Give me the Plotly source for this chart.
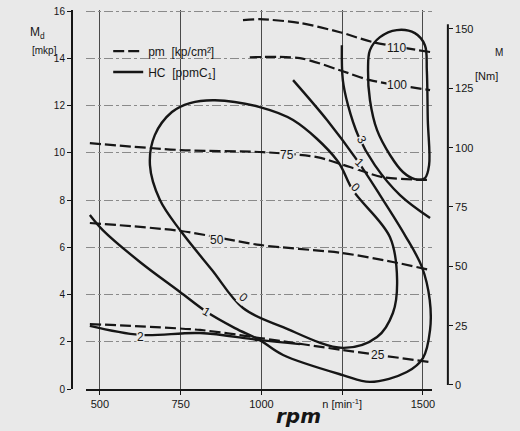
import plotly.graph_objects as go

# ---------------- data ----------------
# HC iso-lines (solid)
hc0_rpm = [856, 995, 1098, 1234, 1283, 1398, 1420, 1407, 1358, 1252, 1067, 943, 847, 748, 686, 655, 670, 723, 779, 856]
hc0_md = [12.23, 11.94, 11.39, 9.69, 8.42, 6.43, 4.61, 3.22, 2.20, 1.74, 2.62, 3.43, 5.04, 6.73, 8.00, 9.48, 10.75, 11.73, 12.11, 12.23]

hc1_rpm = [469, 509, 624, 748, 831, 918, 995, 1067, 1252, 1336, 1450, 1500, 1522, 1521, 1497, 1444, 1367, 1296, 1203, 1098]
hc1_md = [7.37, 6.73, 5.38, 4.11, 3.26, 2.58, 2.07, 1.44, 0.59, 0.30, 0.72, 1.31, 2.50, 3.77, 5.16, 6.52, 8.21, 9.69, 11.39, 13.08]

hc2_rpm = [469, 624, 810, 995, 1119]
hc2_md = [2.67, 2.29, 2.37, 2.07, 1.90]

hc3_rpm = [1249, 1252, 1268, 1299, 1351, 1429, 1522]
hc3_md = [14.56, 13.08, 12.02, 10.75, 9.48, 8.21, 7.24]

hcloop_rpm = [1419, 1367, 1336, 1330, 1336, 1358, 1398, 1438, 1475, 1506, 1519, 1515, 1512, 1506, 1475, 1419]
hcloop_md = [15.20, 14.90, 14.35, 13.50, 12.23, 10.96, 9.91, 9.19, 8.89, 8.93, 9.48, 11.39, 13.50, 14.56, 15.07, 15.20]

# pm iso-lines (dashed)
pm110_rpm = [943, 995, 1119, 1243, 1345, 1522]
pm110_md = [15.62, 15.66, 15.50, 15.11, 14.69, 14.27]
pm100_rpm = [964, 1119, 1243, 1336, 1522]
pm100_md = [14.05, 14.01, 13.50, 13.08, 12.66]
pm75_rpm = [469, 750, 1005, 1172, 1274, 1376, 1522]
pm75_md = [10.41, 10.12, 10.03, 9.82, 9.40, 8.97, 8.85]
pm50_rpm = [469, 751, 995, 1249, 1407, 1522]
pm50_md = [7.03, 6.69, 6.10, 5.76, 5.38, 5.04]
pm25_rpm = [469, 810, 995, 1252, 1522]
pm25_md = [2.75, 2.50, 2.16, 1.65, 1.14]

# curve labels
lab_text = ["0", "1", "2", "0", "1", "3", "110", "100", "75", "50", "25"]
lab_rpm = [943, 831, 627, 1290, 1305, 1311, 1419, 1419, 1079, 862, 1361]
lab_md = [3.89, 3.26, 2.20, 8.55, 9.57, 10.54, 14.43, 12.87, 9.93, 6.31, 1.44]
lab_angle = [40, 30, 0, 45, 45, 60, 0, 0, 0, 0, 0]

# axes ticks
x_ticks = [500, 750, 1000, 1250, 1500]
x_ticktext = ["500", "750", "1000", "n [min<sup>-1</sup>]", "1500"]
md_ticks = [0, 2, 4, 6, 8, 10, 12, 14, 16]
nm_ticks = [0, 25, 50, 75, 100, 125, 150]

# ---------------- styling ----------------
BG = "#e9e9e9"
INK = "#161616"
FONT = "Liberation Sans"

fig = go.Figure()

hc_sets = [(hc0_rpm, hc0_md), (hc1_rpm, hc1_md), (hc2_rpm, hc2_md),
           (hc3_rpm, hc3_md), (hcloop_rpm, hcloop_md)]
pm_sets = [(pm110_rpm, pm110_md), (pm100_rpm, pm100_md), (pm75_rpm, pm75_md),
           (pm50_rpm, pm50_md), (pm25_rpm, pm25_md)]

for i, (xs, ys) in enumerate(pm_sets):
    fig.add_trace(go.Scatter(
        x=xs, y=ys, mode="lines",
        line=dict(color=INK, width=2.2, dash="11px,4px", shape="spline", smoothing=0.8),
        name="pm  [kp/cm²]", legendgroup="pm", showlegend=(i == 0),
        hoverinfo="skip"))

for i, (xs, ys) in enumerate(hc_sets):
    fig.add_trace(go.Scatter(
        x=xs, y=ys, mode="lines",
        line=dict(color=INK, width=2.4, shape="spline", smoothing=1.0),
        name="HC  [ppmC<sub>1</sub>]", legendgroup="hc", showlegend=(i == 0),
        hoverinfo="skip"))

# dummy trace to activate the right-hand axis
fig.add_trace(go.Scatter(x=[None], y=[None], yaxis="y2", showlegend=False, hoverinfo="skip"))

# curve labels (with background to break the lines)
for t, xv, yv, a in zip(lab_text, lab_rpm, lab_md, lab_angle):
    fig.add_annotation(x=xv, y=yv, text=t, showarrow=False, textangle=a,
                       font=dict(family=FONT, size=12, color=INK),
                       bgcolor=BG, borderpad=0)

# axis titles
fig.add_annotation(xref="paper", yref="paper", x=-0.027, y=0.966, text="M<sub>d</sub>",
                   showarrow=False, font=dict(family=FONT, size=12, color=INK))
fig.add_annotation(xref="paper", yref="paper", x=-0.023, y=0.913, text="[mkp]",
                   showarrow=False, font=dict(family=FONT, size=10, color=INK))
fig.add_annotation(xref="paper", yref="paper", x=1.057, y=0.908, text="M",
                   showarrow=False, font=dict(family=FONT, size=10, color=INK))
fig.add_annotation(xref="paper", yref="paper", x=1.045, y=0.847, text="[Nm]",
                   showarrow=False, font=dict(family=FONT, size=11, color=INK))
fig.add_annotation(xref="paper", yref="paper", x=0.588, y=-0.036, yanchor="top",
                   text="<b><i>rpm</i></b>", showarrow=False, borderpad=0,
                   font=dict(family="DejaVu Sans", size=20, color=INK))

# right axis line (spans 0..150 Nm only)
fig.add_shape(type="line", xref="paper", yref="y2", x0=0.927, x1=0.927, y0=0, y1=152,
              line=dict(color=INK, width=2))

fig.update_layout(
    width=520, height=431,
    margin=dict(l=40, r=40, t=10, b=42, autoexpand=False),
    paper_bgcolor=BG, plot_bgcolor=BG,
    font=dict(family=FONT, color=INK, size=11),
    showlegend=True,
    legend=dict(x=0.155, y=0.93, xanchor="left", yanchor="top",
                bgcolor="rgba(0,0,0,0)", font=dict(family=FONT, size=12, color=INK),
                itemwidth=30, tracegroupgap=2),
    xaxis=dict(domain=[0.1045, 0.8909], range=[457, 1528],
               tickvals=x_ticks, ticktext=x_ticktext, automargin=False,
               showgrid=True, gridcolor="#4a4a4a", gridwidth=1,
               showline=True, linecolor=INK, linewidth=2,
               ticks="outside", ticklen=4, tickcolor=INK,
               zeroline=False, tickfont=dict(size=11, color=INK)),
    yaxis=dict(domain=[0, 1], range=[0, 16.05], anchor="free", position=0.0727,
               tickvals=md_ticks, showgrid=True, gridcolor="#8a8a8a", gridwidth=1,
               griddash="dashdot", automargin=False,
               showline=True, linecolor=INK, linewidth=2,
               ticks="outside", ticklen=4, tickcolor=INK, zeroline=False,
               tickfont=dict(size=10, color=INK)),
    yaxis2=dict(overlaying="y", side="right", anchor="free", position=0.927,
                range=[-1.69, 158.0], tickvals=nm_ticks, showgrid=False,
                showline=False, ticks="outside", ticklen=4, tickcolor=INK,
                zeroline=False, automargin=False, tickfont=dict(size=11, color=INK)),
)

fig.write_html("out.html", config={"displayModeBar": False},
               post_script="document.body.style.margin='0';document.body.style.overflow='hidden';")
